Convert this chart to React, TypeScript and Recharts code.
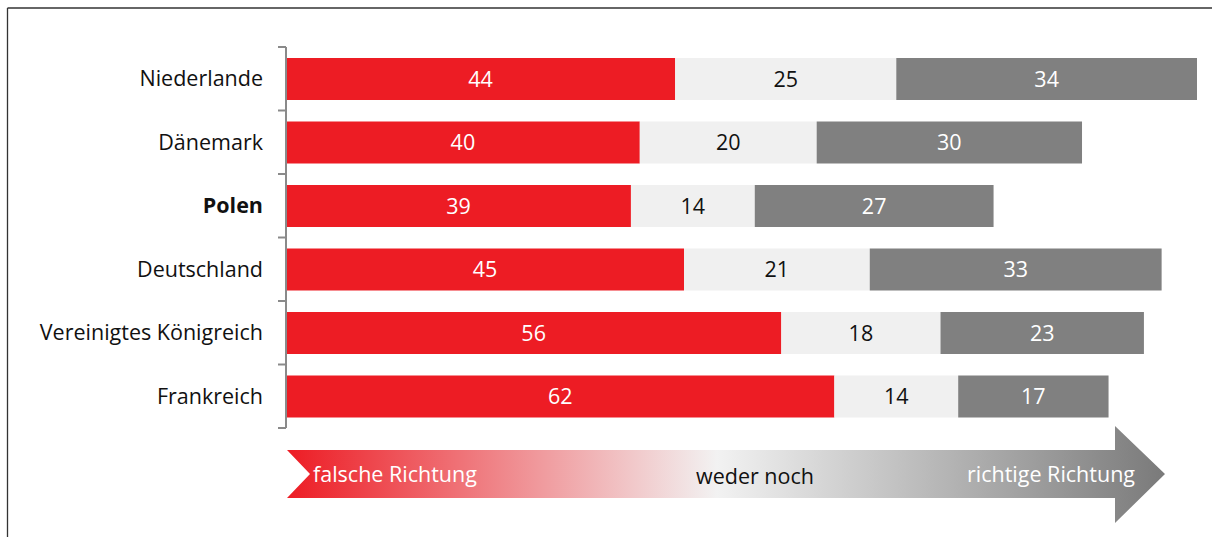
import { BarChart, Bar, XAxis, YAxis, LabelList } from "recharts";

const countries = ["Niederlande", "Dänemark", "Polen", "Deutschland", "Vereinigtes Königreich", "Frankreich"];
const falsch = [44, 40, 39, 45, 56, 62];
const weder = [25, 20, 14, 21, 18, 14];
const richtig = [34, 30, 27, 33, 23, 17];
const highlighted = "Polen";

const data = countries.map((name, i) => ({
    name,
    falsch: falsch[i],
    weder: weder[i],
    richtig: richtig[i],
}));

const FONT = "'Open Sans', sans-serif";
const FS = 21.5;
const RED = "#ED1C24";
const LIGHT = "#F0F0F0";
const DARK = "#808080";

function CountryTick(props: any) {
    const { x, y, payload, index } = props;
    const half = payload.offset ?? 31.75;
    const bold = payload.value === highlighted;
    return (
        <g>
            <line x1={x} x2={x + 8} y1={y - half} y2={y - half} stroke="#8a8a8a" strokeWidth={2} />
            {index === countries.length - 1 && (
                <line x1={x} x2={x + 8} y1={y + half} y2={y + half} stroke="#8a8a8a" strokeWidth={2} />
            )}
            <text
                x={x - 15}
                y={y}
                dy="0.35em"
                textAnchor="end"
                fontFamily={FONT}
                fontSize={FS}
                fontWeight={bold ? 700 : 400}
                fill="#111"
            >
                {payload.value}
            </text>
        </g>
    );
}

function Overlay() {
    return (
        <svg
            width={1212}
            height={537}
            style={{ position: "absolute", left: 0, top: 0, pointerEvents: "none" }}
        >
            <defs>
                <linearGradient id="dir" x1="0" x2="1" y1="0" y2="0">
                    <stop offset="0" stopColor={RED} />
                    <stop offset="0.49" stopColor="#F2F2F2" />
                    <stop offset="1" stopColor="#7A7A7A" />
                </linearGradient>
            </defs>
            <line x1={7.5} x2={1212} y1={8} y2={8} stroke="#333" strokeWidth={1.3} />
            <line x1={7.5} x2={7.5} y1={8} y2={537} stroke="#333" strokeWidth={1.3} />
            <polygon
                points="287,450 1115,450 1115,426 1165,474 1115,523 1115,498 287,498 310,474"
                fill="url(#dir)"
            />
            <text x={313} y={482} fontFamily={FONT} fontSize={FS} fill="#fff">falsche Richtung</text>
            <text x={755} y={484} textAnchor="middle" fontFamily={FONT} fontSize={FS} fill="#111">weder noch</text>
            <text x={1135} y={482} textAnchor="end" fontFamily={FONT} fontSize={FS} fill="#fff">richtige Richtung</text>
        </svg>
    );
}

export default function App() {
    return (
        <div style={{ position: "absolute", left: 0, top: 0, width: 1212, height: 537, background: "#fff" }}>
            <BarChart
                width={1212}
                height={537}
                data={data}
                layout="vertical"
                margin={{ top: 47, right: 15, bottom: 109, left: 4 }}
            >
                <XAxis type="number" domain={[0, 103]} hide />
                <YAxis
                    type="category"
                    dataKey="name"
                    width={282}
                    tickSize={8}
                    tickMargin={0}
                    tickLine={false}
                    axisLine={{ stroke: "#8a8a8a", strokeWidth: 2 }}
                    tick={<CountryTick />}
                    interval={0}
                />
                <Bar dataKey="falsch" stackId="a" fill={RED} barSize={42} isAnimationActive={false}>
                    <LabelList dataKey="falsch" position="center" fill="#fff" fontSize={FS} fontFamily={FONT} />
                </Bar>
                <Bar dataKey="weder" stackId="a" fill={LIGHT} barSize={42} isAnimationActive={false}>
                    <LabelList dataKey="weder" position="center" fill="#111" fontSize={FS} fontFamily={FONT} />
                </Bar>
                <Bar dataKey="richtig" stackId="a" fill={DARK} barSize={42} isAnimationActive={false}>
                    <LabelList dataKey="richtig" position="center" fill="#fff" fontSize={FS} fontFamily={FONT} />
                </Bar>
            </BarChart>
            <Overlay />
        </div>
    );
}
